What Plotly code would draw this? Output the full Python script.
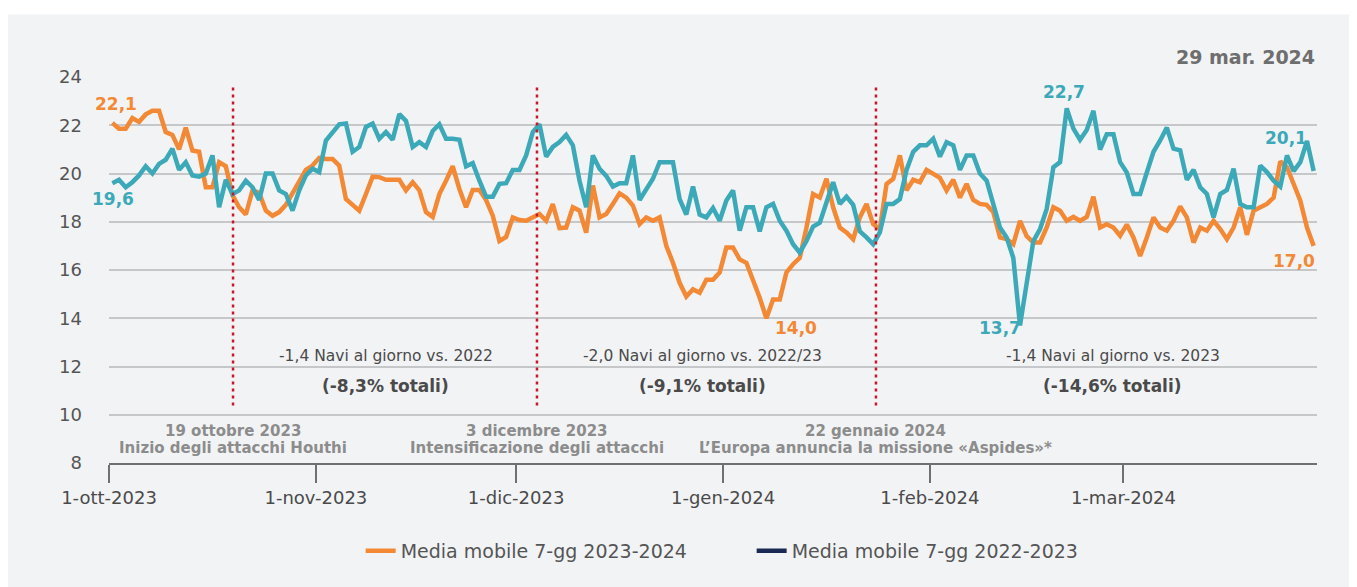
import pandas as pd
import plotly.graph_objects as go

# 7-day moving average of daily transits, one value per day from 1 Oct
start_day = "2023-10-01 12:00"

media_2023_24 = [
    22.1, 21.86, 21.86, 22.3, 22.14, 22.45, 22.6, 22.6, 21.72, 21.6,
    21.0, 21.9, 20.95, 20.9, 19.43, 19.43, 20.47, 20.3, 19.1, 18.6,
    18.3, 19.3, 19.2, 18.46, 18.25, 18.4, 18.7, 19.2, 19.7, 20.15,
    20.33, 20.65, 20.6, 20.6, 20.33, 18.94, 18.7, 18.46, 19.15, 19.87,
    19.85, 19.74, 19.74, 19.74, 19.3, 19.64, 19.3, 18.4, 18.2, 19.15,
    19.7, 20.3, 19.36, 18.6, 19.32, 19.32, 18.9, 18.25, 17.2, 17.37,
    18.18, 18.07, 18.04, 18.2, 18.32, 18.04, 18.73, 17.74, 17.76, 18.6,
    18.46, 17.55, 19.5, 18.18, 18.32, 18.74, 19.18, 19.0, 18.67, 17.9,
    18.18, 18.04, 18.18, 17.0, 16.3, 15.47, 14.9, 15.2, 15.06, 15.6,
    15.6, 15.9, 16.93, 16.93, 16.44, 16.3, 15.6, 14.85, 14.0, 14.78,
    14.78, 15.9, 16.24, 16.5, 17.75, 19.15, 19.0, 19.78, 18.6, 17.76,
    17.56, 17.28, 18.18, 18.74, 17.9, 17.7, 19.57, 19.78, 20.75, 19.3,
    19.74, 19.64, 20.15, 19.98, 19.82, 19.3, 19.74, 19.0, 19.57, 18.9,
    18.74, 18.7, 18.4, 17.35, 17.28, 17.07, 18.04, 17.4, 17.14, 17.14,
    17.76, 18.6, 18.46, 18.04, 18.2, 18.04, 18.2, 19.04, 17.76, 17.9,
    17.76, 17.42, 17.88, 17.35, 16.58, 17.35, 18.18, 17.76, 17.63, 18.04,
    18.63, 18.18, 17.14, 17.76, 17.63, 18.04, 17.7, 17.28, 17.76, 18.6,
    17.46, 18.46, 18.6, 18.74, 19.0, 20.5, 20.26, 19.57, 18.87, 17.76, 17.0,
]

media_2022_23 = [
    19.6, 19.74, 19.43, 19.64, 19.92, 20.3, 20.0, 20.4, 20.57, 21.03,
    20.15, 20.47, 19.92, 19.87, 20.0, 20.75, 18.6, 19.74, 19.15, 19.3,
    19.7, 19.43, 18.9, 20.0, 20.0, 19.3, 19.15, 18.46, 19.3, 19.92,
    20.2, 20.06, 21.37, 21.72, 22.04, 22.07, 20.9, 21.1, 21.93, 22.07,
    21.44, 21.72, 21.4, 22.46, 22.18, 21.1, 21.3, 21.1, 21.76, 22.04,
    21.44, 21.44, 21.4, 20.3, 20.43, 19.7, 19.04, 19.04, 19.57, 19.6,
    20.15, 20.15, 20.75, 21.72, 22.04, 20.7, 21.1, 21.3, 21.6, 21.17,
    19.7, 18.6, 20.75, 20.2, 19.9, 19.46, 19.6, 19.6, 20.75, 18.9,
    19.3, 19.78, 20.47, 20.47, 20.47, 18.94, 18.3, 19.46, 18.3, 18.18,
    18.57, 18.04, 18.88, 19.3, 17.63, 18.6, 18.6, 17.6, 18.6, 18.74,
    18.04, 17.63, 17.07, 16.72, 17.2, 17.8, 17.96, 18.8, 19.64, 18.74,
    19.04, 18.7, 17.6, 17.35, 17.07, 17.56, 18.74, 18.74, 18.94, 20.15,
    20.9, 21.17, 21.17, 21.44, 20.7, 21.3, 21.17, 20.15, 20.75, 20.75,
    20.0, 19.7, 18.74, 17.76, 17.35, 16.5, 13.7, 15.54, 17.2, 17.7,
    18.53, 20.26, 20.47, 22.7, 21.86, 21.4, 21.8, 22.6, 20.99, 21.63,
    21.63, 20.47, 20.04, 19.15, 19.15, 20.04, 20.9, 21.37, 21.9, 21.03,
    20.96, 19.74, 20.15, 19.43, 19.15, 18.18, 19.15, 19.32, 20.2, 18.74,
    18.6, 18.6, 20.33, 20.06, 19.7, 19.46, 20.75, 20.1, 20.47, 21.35, 20.1,
]

series_names = ["Media mobile 7-gg 2023-2024", "Media mobile 7-gg 2022-2023"]

month_ticks = ["2023-10-01", "2023-11-01", "2023-12-01",
               "2024-01-01", "2024-02-01", "2024-03-01"]
month_labels = ["1-ott-2023", "1-nov-2023", "1-dic-2023",
                "1-gen-2024", "1-feb-2024", "1-mar-2024"]
y_ticks = [8, 10, 12, 14, 16, 18, 20, 22, 24]

event_dates = ["2023-10-19 14:00", "2023-12-04 03:00", "2024-01-23 22:00"]
event_titles = ["19 ottobre 2023", "3 dicembre 2023", "22 gennaio 2024"]
event_notes = ["Inizio degli attacchi Houthi",
               "Intensificazione degli attacchi",
               "L’Europa annuncia la missione «Aspides»*"]

period_centres = ["2023-11-11 12:00", "2023-12-29 00:00", "2024-02-28 10:00"]
period_deltas = ["-1,4 Navi al giorno vs. 2022",
                 "-2,0 Navi al giorno vs. 2022/23",
                 "-1,4 Navi al giorno vs. 2023"]
period_totals = ["(-8,3% totali)", "(-9,1% totali)", "(-14,6% totali)"]

update_label = "29 mar. 2024"

ORANGE = "#F38934"
TEAL = "#3CA9B8"
NAVY = "#1B2A55"
RED = "#C8172B"
FONT = "DejaVu Sans"

days = pd.date_range(start_day, periods=len(media_2023_24), freq="D")

fig = go.Figure()

# Panel background
fig.add_shape(type="rect", xref="paper", yref="paper",
              x0=-0.0836, x1=1.0265, y0=-0.33, y1=1.162,
              fillcolor="#F2F3F5", line=dict(width=0), layer="below")

fig.add_trace(go.Scatter(x=days, y=media_2023_24, mode="lines",
                         name=series_names[0],
                         line=dict(color=ORANGE, width=4.5)))
fig.add_trace(go.Scatter(x=days, y=media_2022_23, mode="lines",
                         name=series_names[1], showlegend=False,
                         line=dict(color=TEAL, width=4.5)))
# legend key for the previous-year series
fig.add_trace(go.Scatter(x=[None], y=[None], mode="lines",
                         name=series_names[1],
                         line=dict(color=NAVY, width=4.5)))

# Event markers
for d in event_dates:
    fig.add_shape(type="line", xref="x", yref="y", x0=d, x1=d, y0=10.38, y1=23.66,
                  line=dict(color=RED, width=2.5, dash="3px,4px"))

annotations = []
for d, t, n in zip(event_dates, event_titles, event_notes):
    annotations.append(dict(x=d, y=9.32, xref="x", yref="y", text=t, showarrow=False,
                            font=dict(family=FONT, size=15, color="#8C8C8C", weight="bold"),
                            xanchor="center", yanchor="middle"))
    annotations.append(dict(x=d, y=8.62, xref="x", yref="y", text=n, showarrow=False,
                            font=dict(family=FONT, size=15, color="#8C8C8C", weight="bold"),
                            xanchor="center", yanchor="middle"))

for c, a, b in zip(period_centres, period_deltas, period_totals):
    annotations.append(dict(x=c, y=12.45, xref="x", yref="y", text=a, showarrow=False,
                            font=dict(family=FONT, size=15.5, color="#4A4A4A"),
                            xanchor="center", yanchor="middle"))
    annotations.append(dict(x=c, y=11.2, xref="x", yref="y", text=b, showarrow=False,
                            font=dict(family=FONT, size=17, color="#4A4A4A", weight="bold"),
                            xanchor="center", yanchor="middle"))

# Value call-outs: (series, day index, colour, xshift, yshift)
callouts = [
    (media_2023_24, 0, ORANGE, 4, 19),
    (media_2022_23, 0, TEAL, 1, -16),
    (media_2023_24, 98, ORANGE, 30, -10),
    (media_2022_23, 136, TEAL, -20, -3),
    (media_2022_23, 143, TEAL, -3, 16),
    (media_2022_23, 180, TEAL, -28, 33),
    (media_2023_24, 180, ORANGE, -20, -15),
]
for s, i, col, dx, dy in callouts:
    annotations.append(dict(x=days[i], y=s[i], xref="x", yref="y",
                            text=f"{s[i]:.1f}".replace(".", ","), showarrow=False,
                            xshift=dx, yshift=dy,
                            font=dict(family=FONT, size=17, color=col, weight="bold"),
                            xanchor="center", yanchor="middle"))

annotations.append(dict(x=1, y=1.052, xref="paper", yref="paper", text=update_label,
                        showarrow=False, xanchor="right", yanchor="middle",
                        font=dict(family=FONT, size=19, color="#6E6E6E", weight="bold")))

fig.update_layout(
    width=1357, height=587,
    margin=dict(l=109, r=40, t=77, b=124),
    paper_bgcolor="white",
    plot_bgcolor="rgba(0,0,0,0)",
    font=dict(family=FONT, color="#555555"),
    annotations=annotations,
    showlegend=True,
    legend=dict(orientation="h", x=0.532, xanchor="center", y=-0.228, yanchor="middle",
                font=dict(family=FONT, size=19, color="#555555"),
                bgcolor="rgba(0,0,0,0)", entrywidthmode="pixels", entrywidth=346),
)

fig.update_xaxes(
    type="date",
    range=["2023-10-01", "2024-03-30"],
    tickvals=month_ticks, ticktext=month_labels,
    ticks="outside", ticklen=18, tickwidth=1.5, tickcolor="#707070",
    showline=True, linecolor="#707070", linewidth=1.5,
    showgrid=False, zeroline=False,
    tickfont=dict(family=FONT, size=18, color="#4A4A4A"),
)
fig.update_yaxes(
    range=[8, 24],
    tickvals=y_ticks,
    showgrid=True, gridcolor="#C6C7C9", gridwidth=1.5,
    zeroline=False, showline=False, ticks="",
    ticklabelstandoff=26,
    tickfont=dict(family=FONT, size=18, color="#555555"),
)

fig.write_html("out.html")
